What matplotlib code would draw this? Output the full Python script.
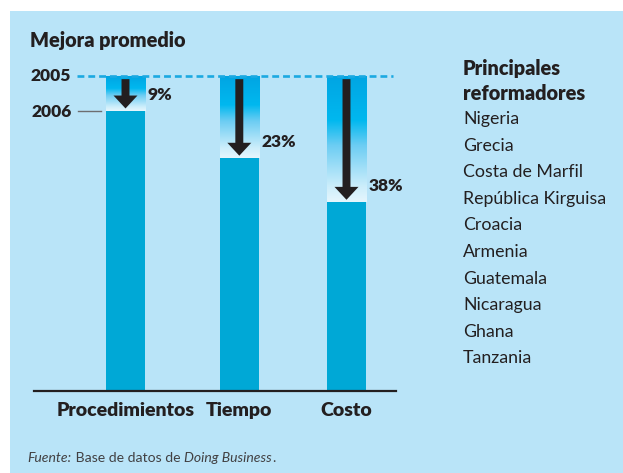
import numpy as np
import matplotlib
matplotlib.use("Agg")
import matplotlib.pyplot as plt
from matplotlib.colors import LinearSegmentedColormap
from matplotlib.patches import Rectangle

# data
categories = ["Procedimientos", "Tiempo", "Costo"]
level_2005 = [100, 100, 100]
level_2006 = [89, 74, 60]
improvement = ["9%", "23%", "38%"]
reformers = ["Nigeria", "Grecia", "Costa de Marfil", "República Kirguisa", "Croacia",
             "Armenia", "Guatemala", "Nicaragua", "Ghana", "Tanzania"]

BG = "#b9e4f8"
BAR = "#00a8d6"
DARK = "#231f20"
FONT = "Lato"
BOLD = "heavy"

W, H = 623, 473
fig = plt.figure(figsize=(W / 100, H / 100), dpi=100)
fig.patch.set_facecolor("white")
fig.patches.append(Rectangle((10 / W, 0), 1, (H - 11) / H, transform=fig.transFigure,
                             facecolor=BG, edgecolor="none", zorder=-10))

# axes: baseline at y=391px, 2005 line at y=76px, from x=34 to 396px
ax = fig.add_axes([34 / W, (H - 391) / H, 362 / W, 315 / H])
ax.set_facecolor("none")
x = np.array([0, 1.03, 2.0])
bw = 0.353

grad = LinearSegmentedColormap.from_list(
    "g", [(0, "#e6f6fd"), (0.12, "#cdeefb"), (0.45, "#6ccdf3"), (0.65, "#00b8ef"), (1, "#00a5e3")])
ramp = np.linspace(0, 1, 256).reshape(-1, 1)

for xi, top, low in zip(x, level_2005, level_2006):
    ax.bar(xi, low, width=bw, color=BAR, zorder=2)
    ax.imshow(ramp, cmap=grad, aspect="auto", origin="lower",
              extent=[xi - bw / 2, xi + bw / 2, low, top], zorder=2)

ax.set_xlim(-0.828, 2.448)
ax.set_ylim(0, 100)

# arrows
for xi, top, low in zip(x, level_2005, level_2006):
    start = top - 1
    ax.arrow(xi, start, 0, -(start - low - 0.7), width=0.072, head_width=0.217,
             head_length=4.1, length_includes_head=True, color=DARK, lw=0, zorder=4)

for xi, low, lab in zip(x, level_2006, improvement):
    ax.text(xi + bw / 2 + 0.025, low + 5, lab, fontsize=12.5, fontweight=BOLD,
            color=DARK, family=FONT, va="center", ha="left")

# 2005 dashed reference line
ax.plot([-0.439, 2.421], [100, 100], color="#1ba9e1", lw=1.9,
        dashes=(2.6, 1.5), clip_on=False, zorder=3)
ax.text(-0.493, 100, "2005", fontsize=12.5, fontweight=BOLD, color=DARK, family=FONT,
        ha="right", va="center")
ax.text(-0.487, level_2006[0] - 0.4, "2006", fontsize=12.5, fontweight=BOLD, color=DARK,
        family=FONT, ha="right", va="center")
ax.plot([-0.43, -0.222], [level_2006[0], level_2006[0]], color="#6d6e71", lw=1,
        clip_on=False)

for s in ["top", "left", "right"]:
    ax.spines[s].set_visible(False)
ax.spines["bottom"].set_color(DARK)
ax.spines["bottom"].set_linewidth(1.6)
ax.set_yticks([])
ax.set_xticks(x)
ax.set_xticklabels(categories, fontsize=14, fontweight=BOLD, color=DARK, family=FONT)
ax.tick_params(axis="x", length=0, pad=8)

fig.text(30 / W, 1 - 40 / H, "Mejora promedio", fontsize=14.3, fontweight=BOLD,
         color=DARK, family=FONT, va="center")

# right list
fig.text(463 / W, 1 - 68 / H, "Principales", fontsize=14.3, fontweight=BOLD,
         color=DARK, family=FONT, va="center")
fig.text(463 / W, 1 - 93 / H, "reformadores", fontsize=14.3, fontweight=BOLD,
         color=DARK, family=FONT, va="center")
for i, name in enumerate(reformers):
    fig.text(463 / W, 1 - (119 + i * 26.6) / H, name, fontsize=12.8, color=DARK,
             family=FONT, va="center")

# source note with mixed styles
parts = [("Fuente:", "italic"), (" Base de datos de ", "normal"),
         ("Doing Business", "italic"), (".", "normal")]
fig.canvas.draw()
r = fig.canvas.get_renderer()
xpos = 27
for txt, style in parts:
    t = fig.text(xpos / W, 1 - 458 / H, txt, fontsize=10.1, style=style, color="#414042",
                 family=FONT, va="center")
    bb = t.get_window_extent(renderer=r)
    xpos += bb.width + 0.5

fig.savefig("out.png", dpi=100)
